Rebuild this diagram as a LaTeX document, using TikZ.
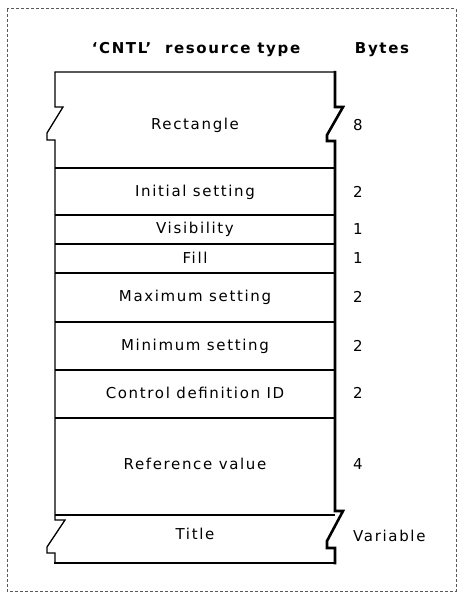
\documentclass[tikz,border=0pt]{standalone}
\usepackage{fontspec}
\setmainfont{DejaVu Sans}[LetterSpace=11]
\begin{document}
\begin{tikzpicture}[x=1pt,y=-1pt,
  lbl/.style={font=\fontsize{15}{17}\selectfont, inner sep=0pt, anchor=center},
  hdr/.style={font=\fontsize{15}{17}\bfseries\selectfont, inner sep=0pt, anchor=center},
  byt/.style={font=\fontsize{15}{17}\selectfont, inner sep=0pt, anchor=west},
  thin/.style={line width=1.3pt, line join=miter},
  thick/.style={line width=2.6pt, line join=miter},
  sep/.style={line width=1.2pt}]
\useasboundingbox (0,0) rectangle (461,596);
% outer dashed frame
\draw[gray!70!black, line width=1pt, dash pattern=on 3pt off 2pt] (7,9) rectangle (456,591);
% headers
\node[hdr] (h1) at (196,50) {`CNTL'\ \ resource type};
\node[hdr] (h2) at (382,50) {Bytes};
% left outline
\draw[thin] (335,72) -- (55,72) -- (55,107) -- (63,107) -- (47,133) -- (47,140) -- (55,140) -- (55,520) -- (65,520) -- (47,547) -- (47,553) -- (55,553) -- (55,563);
% right outline
\draw[thick] (335,71) -- (335,107) -- (343,107) -- (327,135) -- (327,141) -- (335,141) -- (335,511) -- (343,511) -- (327,541) -- (327,548) -- (335,548) -- (335,564.3);
% bottom
\draw[thick] (54.4,563) -- (336.3,563);
% separators
\foreach \yy in {168,215,244,273,322,370,418,515} \draw[sep] (55,\yy) -- (335,\yy);
% row labels
\node[lbl] (r1) at (195,125) {Rectangle};
\node[lbl] (r2) at (195,192) {Initial setting};
\node[lbl] (r3) at (195,229) {Visibility};
\node[lbl] (r4) at (195,258) {Fill};
\node[lbl] (r5) at (195,297) {Maximum setting};
\node[lbl] (r6) at (195,346) {Minimum setting};
\node[lbl] (r7) at (195,393) {Control definition ID};
\node[lbl] (r8) at (195,464) {Reference value};
\node[lbl] (r9) at (195,534) {Title};
% byte counts
\node[byt] (b1) at (353,125) {8};
\node[byt] (b2) at (353,192) {2};
\node[byt] (b3) at (353,229) {1};
\node[byt] (b4) at (353,258) {1};
\node[byt] (b5) at (353,297) {2};
\node[byt] (b6) at (353,346) {2};
\node[byt] (b7) at (353,393) {2};
\node[byt] (b8) at (353,464) {4};
\node[byt] (b9) at (353,536) {Variable};
\end{tikzpicture}
\end{document}
